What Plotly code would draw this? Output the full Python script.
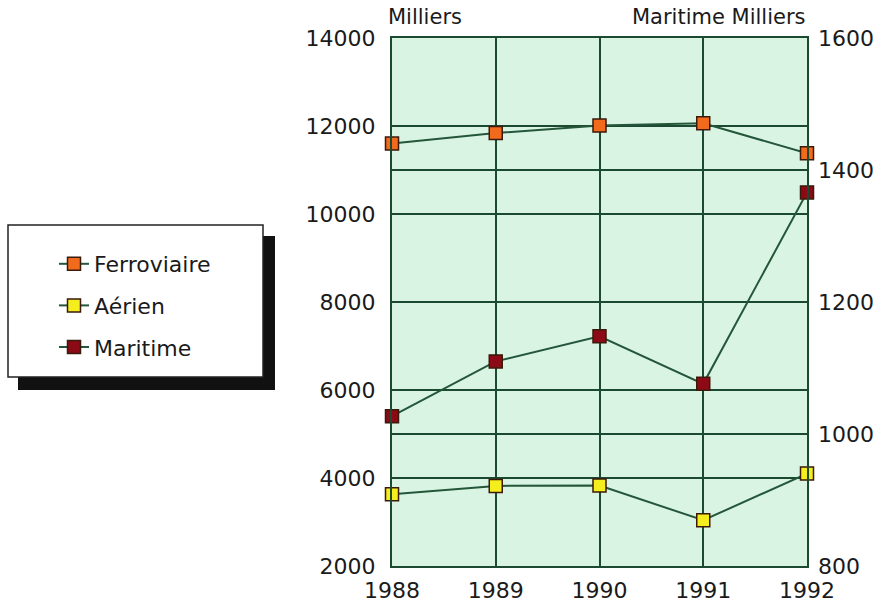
import plotly.graph_objects as go

years = [1988, 1989, 1990, 1991, 1992]
ferroviaire = [11600, 11840, 12010, 12060, 11380]
aerien = [3630, 3820, 3830, 3040, 4100]
maritime = [1027, 1110, 1148, 1076, 1366]

left_ticks = [2000, 4000, 6000, 8000, 10000, 12000, 14000]
right_ticks = [800, 1000, 1200, 1400, 1600]

FONT = "DejaVu Sans"
TXT = "#1a1a1a"
GRID = "#1c4a30"
LINE = "#24563a"

W, H = 882, 604
L, R, T, B = 392, 75, 38, 38
pw = W - L - R
ph = H - T - B


def px_x(x):
    return (x - L) / pw


def px_y(y):
    return (H - B - y) / ph


fig = go.Figure()

series = [
    ("Ferroviaire", ferroviaire, "#f26a1b", "y"),
    ("Aérien", aerien, "#f4ee1e", "y"),
    ("Maritime", maritime, "#8c0a16", "y2"),
]
for i, (name, vals, col, ax) in enumerate(series):
    fig.add_trace(go.Scatter(
        x=years, y=vals, name=name, yaxis=ax, mode="lines+markers",
        line=dict(color=LINE, width=2),
        marker=dict(symbol="square", size=13, color=col,
                    line=dict(color="#3a1a0a", width=1.5)),
        cliponaxis=False, legendgroup=f"g{i}",
    ))

# legend box with shadow
fig.add_shape(type="rect", xref="paper", yref="paper",
              x0=px_x(18), x1=px_x(275), y0=px_y(390), y1=px_y(236),
              fillcolor="#111111", line=dict(width=0), layer="above")
fig.add_shape(type="rect", xref="paper", yref="paper",
              x0=px_x(8), x1=px_x(263), y0=px_y(377), y1=px_y(225),
              fillcolor="white", line=dict(color="#222222", width=1.5), layer="above")

fig.add_annotation(text="Milliers", xref="paper", yref="paper",
                   x=px_x(386), y=px_y(17), xanchor="left", yanchor="middle",
                   showarrow=False, font=dict(family=FONT, size=21, color=TXT))
fig.add_annotation(text="Maritime Milliers", xref="paper", yref="paper",
                   x=px_x(808), y=px_y(17), xanchor="right", yanchor="middle",
                   showarrow=False, font=dict(family=FONT, size=21, color=TXT))

tickfont = dict(family=FONT, size=22, color=TXT)

fig.update_layout(
    width=W, height=H,
    margin=dict(l=L, r=R, t=T, b=B, autoexpand=False),
    paper_bgcolor="white",
    plot_bgcolor="#d9f4e2",
    font=dict(family=FONT, size=20, color=TXT),
    showlegend=True,
    legend=dict(
        x=px_x(54), y=px_y(243), xanchor="left", yanchor="top",
        bgcolor="rgba(0,0,0,0)", borderwidth=0,
        font=dict(family=FONT, size=22, color=TXT),
        tracegroupgap=10, traceorder="grouped",
    ),
    xaxis=dict(
        range=[1988, 1992], tickvals=years, ticktext=[str(y) for y in years],
        showgrid=True, gridcolor=GRID, gridwidth=2,
        showline=True, linecolor=GRID, linewidth=2, mirror=True,
        zeroline=False, ticks="", ticklabelstandoff=4, automargin=False,
        tickfont=tickfont,
    ),
    yaxis=dict(
        range=[2000, 14000], tickvals=left_ticks,
        ticktext=[str(v) for v in left_ticks],
        showgrid=True, gridcolor=GRID, gridwidth=2,
        showline=True, linecolor=GRID, linewidth=2, mirror=True,
        zeroline=False, ticks="", ticklabelstandoff=10, automargin=False,
        tickfont=tickfont,
    ),
    yaxis2=dict(
        range=[800, 1600], tickvals=right_ticks,
        ticktext=[str(v) for v in right_ticks],
        overlaying="y", side="right",
        showgrid=True, gridcolor=GRID, gridwidth=2,
        zeroline=False, ticks="", ticklabelstandoff=10, automargin=False,
        tickfont=tickfont,
    ),
)

fig.write_html("out.html", config={"displayModeBar": False},
               post_script="document.body.style.margin='0';document.body.style.overflow='hidden';")
